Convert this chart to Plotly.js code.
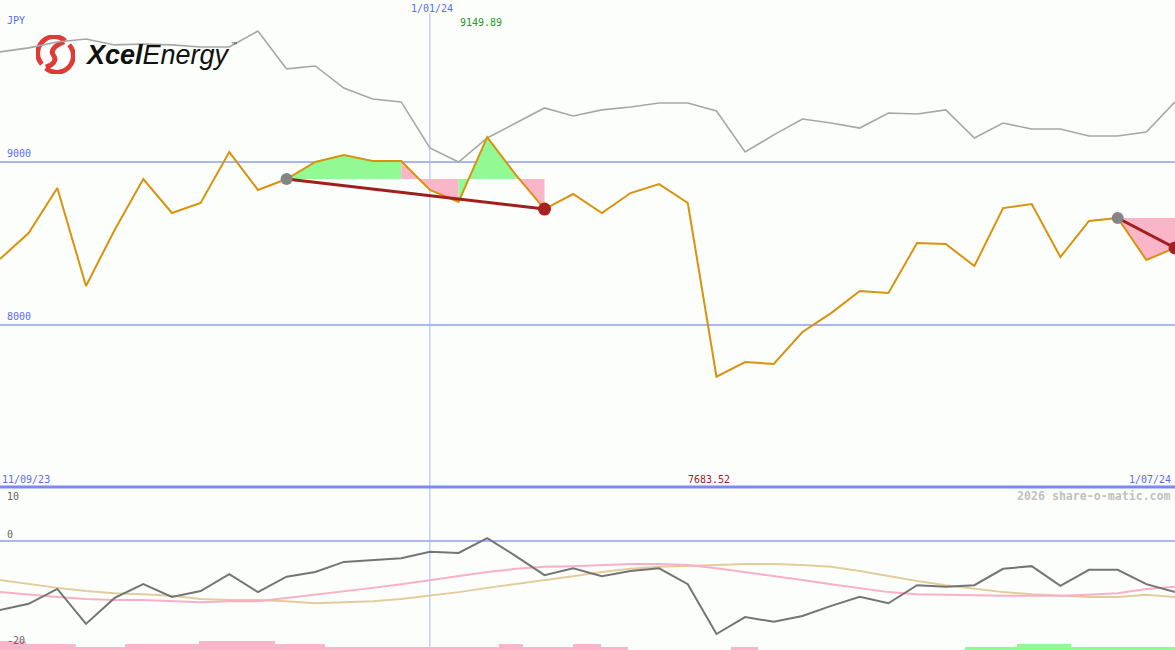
<!DOCTYPE html>
<html><head><meta charset="utf-8">
<script src="https://cdn.plot.ly/plotly-3.0.1.min.js"></script>
<style>html,body{margin:0;padding:0;background:#fcfefc;}#chart{width:1175px;height:650px;}</style>
</head><body><div id="chart"></div>
<script>
// ---- data (weekly, index 0 = 11/09/23, index 41 = 1/07/24) ----
const price = [8404,8563,8839,8239,8582,8894,8686,8747,9059,8827,
               8894,8998,9041,9004,9004,8827,8753,9149.89,8919,8710,
               8802,8686,8808,8863,8747,7683.52,7773,7761,7957,8073,
               8208,8196,8502,8496,8361,8716,8741,8416,8637,8655,
               8398,8472];
const compare = [9672,9697,9733,9751,9715,9721,9715,9702,9702,9800,
                 9568,9586,9451,9384,9366,9084,8998,9145,9237,9329,
                 9280,9317,9335,9359,9359,9310,9059,9164,9261,9237,
                 9206,9298,9292,9317,9145,9237,9200,9200,9157,9157,
                 9182,9366];
const osc = [-13.1,-11.9,-9.1,-15.7,-10.8,-8.2,-10.6,-9.5,-6.3,-9.7,
             -6.8,-5.9,-4.0,-3.6,-3.3,-2.1,-2.3,0.5,-2.9,-6.5,
             -5.2,-6.7,-5.7,-5.2,-8.2,-17.6,-14.4,-15.3,-14.2,-12.3,
             -10.6,-11.8,-8.4,-8.7,-8.4,-5.3,-4.8,-8.5,-5.5,-5.5,
             -8.2,-9.7];
const oscPink = [-9.7,-10.2,-10.6,-11.0,-11.2,-11.2,-11.4,-11.6,-11.4,-11.4,
                 -10.8,-10.2,-9.5,-8.9,-8.2,-7.4,-6.7,-5.9,-5.3,-4.9,
                 -4.8,-4.6,-4.4,-4.4,-4.6,-5.2,-5.9,-6.7,-7.4,-8.2,
                 -8.9,-9.7,-10.1,-10.2,-10.4,-10.4,-10.4,-10.4,-10.2,-9.9,
                 -9.1,-8.7];
const oscTan = [-7.4,-8.2,-8.9,-9.5,-9.9,-10.1,-10.4,-11.0,-11.2,-11.2,
                -11.4,-11.8,-11.6,-11.4,-11.0,-10.4,-9.7,-8.9,-8.2,-7.4,
                -6.7,-5.9,-5.3,-4.9,-4.8,-4.6,-4.4,-4.4,-4.6,-4.9,
                -5.7,-6.7,-7.6,-8.4,-9.1,-9.7,-10.1,-10.4,-10.6,-10.6,
                -10.2,-10.6];
// trend patterns: start index, end index
const trends = [[10,19],[39,41]];
// fill segments within pattern: [from, to, colour key]
const fillSegs = [[10,14,'g',10],[14,16,'p',10],[16,18,'g',10],[18,19,'p',10],[39,41,'p',39]];
// bottom strip bars
const barStart = [0,0.91,2.65,4.36,6.94,9.6,11.34,17.41,18.25,19.99,20.97,25.51,33.67,35.49,37.37];
const barEnd   = [0.91,2.65,4.36,6.94,9.6,11.34,17.41,18.25,19.99,20.97,21.91,26.45,35.49,37.37,41];
const barLevel = [3,2,1,2,3,2,1,2,1,2,1,1,1,2,1];
const barKind  = ['p','p','p','p','p','p','p','p','p','p','p','p','g','g','g'];
const gridVals = [9000,8000];
const dateMarkIdx = 15;

// ---- helpers ----
const W=1175,H=650;
const PX = x=>x/W, PY = y=>1-y/H;
const idx = price.map((_,i)=>i);
const GREEN='#93f993', PINK='#fbb5c9';

const traces=[];
fillSegs.forEach(s=>{
  const [a,b,k,base]=s;
  const bv=price[base];
  const xs=[],ys=[];
  for(let i=a;i<=b;i++){xs.push(i);ys.push(price[i]);}
  xs.push(b,a);ys.push(bv,bv);
  traces.push({x:xs,y:ys,type:'scatter',mode:'lines',fill:'toself',fillcolor:k==='g'?GREEN:PINK,
    line:{width:0},hoverinfo:'skip',xaxis:'x',yaxis:'y'});
});
traces.push({x:idx,y:compare,type:'scatter',mode:'lines',line:{color:'#a6a6a6',width:1.6},xaxis:'x',yaxis:'y'});
traces.push({x:idx,y:price,type:'scatter',mode:'lines',line:{color:'#d8920c',width:2},xaxis:'x',yaxis:'y'});
trends.forEach(t=>{
  traces.push({x:[t[0],t[1]],y:[price[t[0]],price[t[1]]],type:'scatter',mode:'lines',
    line:{color:'#a11e1e',width:3},xaxis:'x',yaxis:'y'});
  traces.push({x:[t[0]],y:[price[t[0]]],type:'scatter',mode:'markers',marker:{color:'#858585',size:12},xaxis:'x',yaxis:'y'});
  traces.push({x:[t[1]],y:[price[t[1]]],type:'scatter',mode:'markers',marker:{color:'#a82020',size:13},xaxis:'x',yaxis:'y'});
});
// bottom panel
traces.push({x:barStart.map((s,i)=>(s+barEnd[i])/2),y:barLevel.map(l=>l*3),width:barStart.map((s,i)=>barEnd[i]-s),
  type:'bar',marker:{color:barKind.map(k=>k==='g'?GREEN:PINK),line:{width:0}},xaxis:'x',yaxis:'y3'});
traces.push({x:idx,y:oscTan,type:'scatter',mode:'lines',line:{color:'#e4cb9c',width:2},xaxis:'x',yaxis:'y2'});
traces.push({x:idx,y:oscPink,type:'scatter',mode:'lines',line:{color:'#fbafc6',width:2},xaxis:'x',yaxis:'y2'});
traces.push({x:idx,y:osc,type:'scatter',mode:'lines',line:{color:'#747474',width:2},xaxis:'x',yaxis:'y2'});

const split = 163/H;
const mono='DejaVu Sans Mono, monospace';
const ann=[];
function A(text,x,y,color,xanchor,extra){ann.push(Object.assign({text:text,x:x,y:y,xref:'paper',yref:'paper',
  xanchor:xanchor||'left',yanchor:'middle',showarrow:false,font:{family:mono,size:10,color:color}},extra||{}));}
A('JPY',PX(5),PY(20),'#5b6cf2');
gridVals.forEach(v=>ann.push({text:String(v),x:PX(5),xref:'paper',y:v,yref:'y',xanchor:'left',yanchor:'bottom',yshift:1,
  showarrow:false,font:{family:mono,size:10,color:'#5b6cf2'}}));
A('1/01/24',PX(432),PY(8),'#5b6cf2','center');
A(String(Math.max(...price)),PX(458),PY(22),'#229922');
A('11/09/23',PX(0),PY(479),'#5b6cf2');
A(String(Math.min(...price)),PX(709),PY(479),'#a82020','center');
A('1/07/24',PX(1173),PY(479),'#5b6cf2','right');
A('<b>2026 share-o-matic.com</b>',PX(1173),PY(496),'#c0c0c0','right',{font:{family:mono,size:11.6,color:'#c0c0c0'}});
A('10',PX(5),PY(496),'#666666');
A('0',PX(5),PY(534),'#666666');
A('-20',PX(5),PY(640),'#666666');
// logo text
ann.push({text:'<b><i>Xcel</i></b><i>Energy</i>',x:PX(83),y:PY(55),xref:'paper',yref:'paper',xanchor:'left',yanchor:'middle',
  showarrow:false,font:{family:'Liberation Sans, Arial, sans-serif',size:27,color:'#111111'}});
ann.push({text:'™',x:PX(229),y:PY(44),xref:'paper',yref:'paper',xanchor:'left',yanchor:'middle',
  showarrow:false,font:{family:'Liberation Sans, Arial, sans-serif',size:6,color:'#333'}});

const logoSvg = '<svg xmlns="http://www.w3.org/2000/svg" viewBox="0 0 40 40">'+
 '<path d="M30 6 A17 17 0 0 0 6 30" fill="none" stroke="#e03a36" stroke-width="5"/>'+
 '<path d="M10 34 A17 17 0 0 0 34 10" fill="none" stroke="#e03a36" stroke-width="5"/>'+
 '<path d="M29 7 C20 10 14 16 18 21 C22 26 17 31 10 33" fill="none" stroke="#e03a36" stroke-width="5"/></svg>';

const layout={
  width:W,height:H,margin:{l:0,r:0,t:0,b:0,pad:0},
  paper_bgcolor:'#fcfefc',plot_bgcolor:'rgba(0,0,0,0)',showlegend:false,
  xaxis:{range:[0,41],showgrid:false,zeroline:false,showticklabels:false,ticks:'',showline:false,fixedrange:true},
  yaxis:{domain:[split,1],range:[7008,9990],tickvals:gridVals,showgrid:true,gridcolor:'#a8b6f4',gridwidth:2,
    zeroline:false,showticklabels:false,ticks:''},
  yaxis2:{domain:[0,split],range:[-20.62,10.13],tickvals:[0],showgrid:true,gridcolor:'#a8b6f4',gridwidth:2,
    zeroline:false,showticklabels:false,ticks:''},
  yaxis3:{overlaying:'y2',range:[0,163],showgrid:false,zeroline:false,showticklabels:false,ticks:''},
  bargap:0,
  shapes:[
    {type:'line',xref:'x',yref:'paper',x0:dateMarkIdx,x1:dateMarkIdx,y0:0,y1:PY(13),line:{color:'#a8b6f4',width:1},layer:'below'},
    {type:'line',xref:'paper',yref:'paper',x0:0,x1:1,y0:split,y1:split,line:{color:'#7b8aee',width:3}}
  ],
  images:[{source:'data:image/svg+xml;utf8,'+encodeURIComponent(logoSvg),xref:'paper',yref:'paper',
    x:PX(36),y:PY(35),sizex:PX(39),sizey:39/H,xanchor:'left',yanchor:'top',sizing:'stretch',layer:'below'}],
  annotations:ann
};
Plotly.newPlot('chart',traces,layout,{displayModeBar:false,staticPlot:true});
</script></body></html>
